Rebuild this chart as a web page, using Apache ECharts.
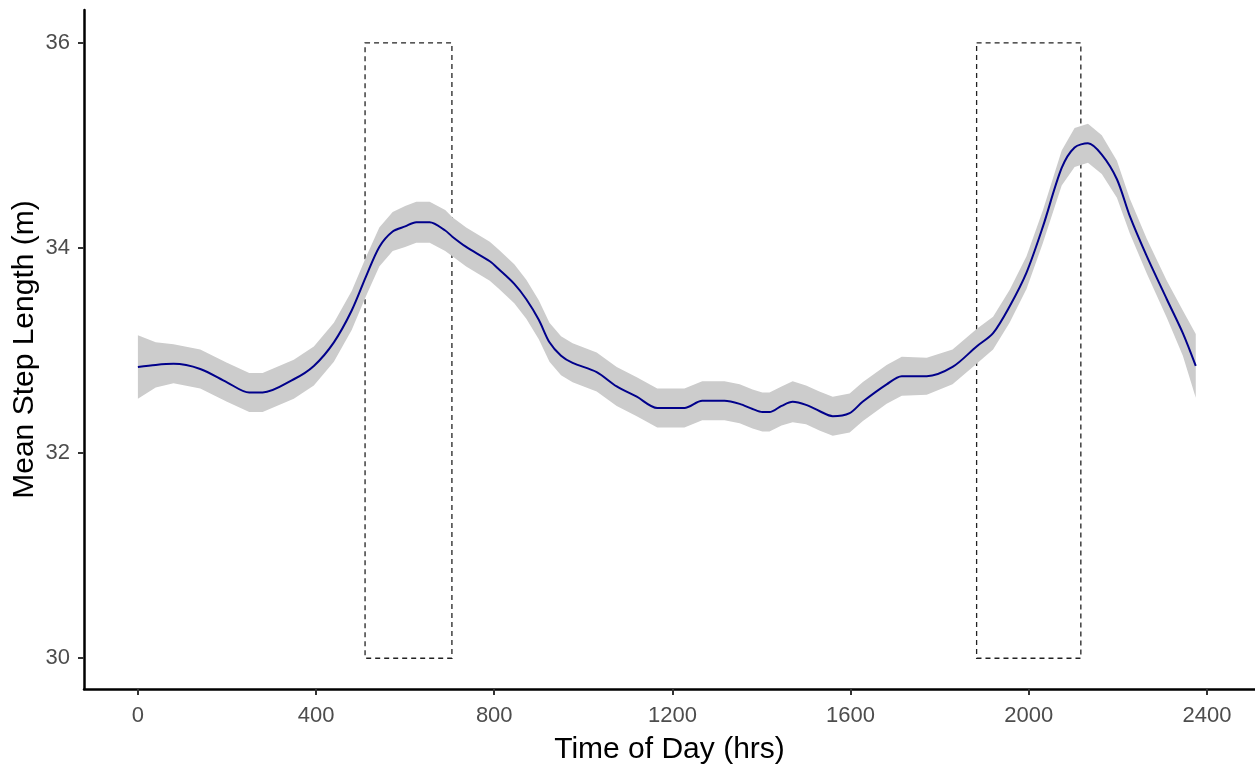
<!DOCTYPE html>
<html>
<head>
<meta charset="utf-8">
<script src="https://cdn.jsdelivr.net/npm/echarts@6/dist/echarts.min.js"></script>
<style>
html,body{margin:0;padding:0;background:#fff;}
#chart{width:1255px;height:765px;}
</style>
</head>
<body>
<div id="chart"></div>
<script>
// Time of day (hrs) sample points along the smoothed curve
var times = [0, 40, 80, 140, 200, 250, 280, 350, 395, 440, 480, 512, 542, 572, 600, 625, 655, 690, 706, 737, 790, 811, 845, 872, 900, 924, 950, 976, 1030, 1075, 1120, 1166, 1227, 1267, 1317, 1351, 1380, 1402, 1418, 1445, 1470, 1500, 1530, 1560, 1598, 1627, 1681, 1715, 1771, 1829, 1883, 1920, 1957, 1995, 2032, 2074, 2103, 2133, 2164, 2198, 2227, 2265, 2310, 2346, 2375];
// Mean step length (m)
var meanStep = [32.84, 32.86, 32.87, 32.82, 32.69, 32.59, 32.59, 32.72, 32.85, 33.08, 33.39, 33.72, 34.01, 34.16, 34.21, 34.25, 34.25, 34.17, 34.11, 34.01, 33.87, 33.79, 33.65, 33.50, 33.30, 33.08, 32.95, 32.88, 32.79, 32.65, 32.55, 32.44, 32.44, 32.51, 32.51, 32.48, 32.43, 32.40, 32.40, 32.46, 32.50, 32.47, 32.41, 32.36, 32.39, 32.50, 32.67, 32.75, 32.75, 32.84, 33.04, 33.17, 33.43, 33.76, 34.21, 34.78, 34.98, 35.02, 34.91, 34.67, 34.31, 33.92, 33.50, 33.17, 32.85];
// Half-width of the confidence band (m)
var bandHalf = [0.31, 0.22, 0.19, 0.19, 0.19, 0.19, 0.19, 0.19, 0.19, 0.19, 0.19, 0.19, 0.19, 0.19, 0.2, 0.2, 0.2, 0.2, 0.19, 0.19, 0.19, 0.19, 0.19, 0.19, 0.19, 0.19, 0.19, 0.19, 0.19, 0.19, 0.19, 0.19, 0.19, 0.19, 0.19, 0.19, 0.19, 0.19, 0.19, 0.19, 0.2, 0.19, 0.19, 0.19, 0.19, 0.19, 0.19, 0.19, 0.18, 0.17, 0.17, 0.16, 0.16, 0.16, 0.16, 0.17, 0.19, 0.19, 0.19, 0.18, 0.17, 0.17, 0.18, 0.22, 0.31];
// Dashed windows [start, end] in hrs, and their vertical extent
var windows = [[510, 705], [1883, 2117]];
var windowY = [30, 36];
var xTicks = [0, 400, 800, 1200, 1600, 2000, 2400];
var yTicks = [30, 32, 34, 36];

var lineData = times.map(function (t, i) { return [t, meanStep[i]]; });
var bandData = times.map(function (t, i) { return [t, meanStep[i] - bandHalf[i], meanStep[i] + bandHalf[i]]; });

var chart = echarts.init(document.getElementById('chart'), null, {renderer: 'canvas'});
var labelColor = '#4D4D4D';
var fontFamily = '"Liberation Sans", Arial, sans-serif';

chart.setOption({
  animation: false,
  backgroundColor: '#ffffff',
  grid: {left: 84, right: 0, top: 10, bottom: 76, containLabel: false, outerBoundsMode: 'none'},
  xAxis: {
    type: 'value',
    min: -121, max: 2508,
    name: 'Time of Day (hrs)',
    nameLocation: 'middle',
    nameGap: 46,
    nameMoveOverlap: false,
    nameTextStyle: {color: '#000', fontSize: 30, fontFamily: fontFamily},
    axisLine: {onZero: false, lineStyle: {color: '#000', width: 2.5}},
    axisTick: {show: true, length: 6, customValues: xTicks, lineStyle: {color: '#333', width: 2}},
    axisLabel: {customValues: xTicks, color: labelColor, fontSize: 22, margin: 16, fontFamily: fontFamily,
      formatter: function (v) { return String(v); }},
    splitLine: {show: false}
  },
  yAxis: {
    type: 'value',
    min: 29.7, max: 36.32,
    name: 'Mean Step Length (m)',
    nameLocation: 'middle',
    nameGap: 44,
    nameMoveOverlap: false,
    nameTextStyle: {color: '#000', fontSize: 30, fontFamily: fontFamily},
    axisLine: {onZero: false, lineStyle: {color: '#000', width: 2.5}},
    axisTick: {show: true, length: 6, customValues: yTicks, lineStyle: {color: '#333', width: 2}},
    axisLabel: {customValues: yTicks, color: labelColor, fontSize: 22, margin: 14, fontFamily: fontFamily,
      formatter: function (v) { return String(v); }},
    splitLine: {show: false}
  },
  series: [
    {
      type: 'custom',
      name: 'band',
      data: bandData,
      clip: true,
      z: 1,
      renderItem: function (params, api) {
        if (params.dataIndex !== 0) return null;
        var upper = [], lower = [];
        for (var i = 0; i < bandData.length; i++) {
          upper.push(api.coord([bandData[i][0], bandData[i][2]]));
          lower.push(api.coord([bandData[i][0], bandData[i][1]]));
        }
        var pts = upper.concat(lower.reverse());
        return {
          type: 'polygon',
          shape: {points: pts},
          style: {fill: '#CCCCCC', stroke: null}
        };
      },
      encode: {x: 0, y: [1, 2]},
      silent: true
    },
    {
      type: 'line',
      name: 'mean',
      data: lineData,
      showSymbol: false,
      smooth: 0.3,
      z: 3,
      lineStyle: {color: '#00008B', width: 2},
      silent: true,
      markArea: {
        silent: true,
        itemStyle: {color: 'rgba(0,0,0,0)', borderColor: '#222', borderWidth: 1.3, borderType: [5, 4]},
        data: windows.map(function (w) {
          return [{xAxis: w[0], yAxis: windowY[1]}, {xAxis: w[1], yAxis: windowY[0]}];
        })
      }
    }
  ]
});
</script>
</body>
</html>
